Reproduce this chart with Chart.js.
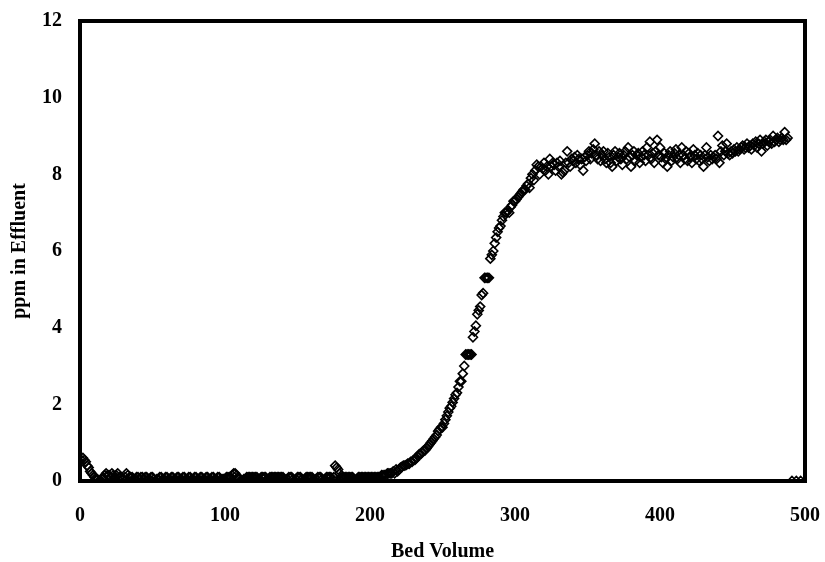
<!DOCTYPE html>
<html>
<head>
<meta charset="utf-8">
<script src="https://cdn.jsdelivr.net/npm/chart.js@4.4.0/dist/chart.umd.min.js"></script>
<style>
    body { margin: 0; background: #fff; }
</style>
</head>
<body>
<canvas id="js--chart--1" width="825" height="562"></canvas>
<script>
// bed volumes, one reading per bed volume
const bedVolume = [
    0, 1, 2, 3, 4, 5, 6, 7, 8, 9,
    10, 11, 12, 13, 14, 15, 16, 17, 18, 19,
    20, 21, 22, 23, 24, 25, 26, 27, 28, 29,
    30, 31, 32, 33, 34, 35, 36, 37, 38, 39,
    40, 41, 42, 43, 44, 45, 46, 47, 48, 49,
    50, 51, 52, 53, 54, 55, 56, 57, 58, 59,
    60, 61, 62, 63, 64, 65, 66, 67, 68, 69,
    70, 71, 72, 73, 74, 75, 76, 77, 78, 79,
    80, 81, 82, 83, 84, 85, 86, 87, 88, 89,
    90, 91, 92, 93, 94, 95, 96, 97, 98, 99,
    100, 101, 102, 103, 104, 105, 106, 107, 108, 109,
    110, 111, 112, 113, 114, 115, 116, 117, 118, 119,
    120, 121, 122, 123, 124, 125, 126, 127, 128, 129,
    130, 131, 132, 133, 134, 135, 136, 137, 138, 139,
    140, 141, 142, 143, 144, 145, 146, 147, 148, 149,
    150, 151, 152, 153, 154, 155, 156, 157, 158, 159,
    160, 161, 162, 163, 164, 165, 166, 167, 168, 169,
    170, 171, 172, 173, 174, 175, 176, 177, 178, 179,
    180, 181, 182, 183, 184, 185, 186, 187, 188, 189,
    190, 191, 192, 193, 194, 195, 196, 197, 198, 199,
    200, 201, 202, 203, 204, 205, 206, 207, 208, 209,
    210, 211, 212, 213, 214,
    215, 216, 217, 218, 219, 220, 221, 222, 223, 224,
    225, 226, 227, 228, 229, 230, 231, 232, 233, 234,
    235, 236, 237, 238, 239, 240, 241, 242, 243, 244,
    245, 246, 247, 248, 249, 250, 251, 252, 253, 254,
    255, 256, 257, 258, 259, 260, 261, 262, 263, 264,
    265, 266, 267, 268, 269, 270, 271, 272, 273, 274,
    275, 276, 277, 278, 279, 280, 281, 282, 283, 284,
    285, 286, 287, 288, 289, 290, 291, 292, 293, 294,
    295, 296, 297, 298, 299, 300, 301, 302, 303, 304,
    305, 306, 307, 308, 309, 310, 311, 312, 313, 314,
    315, 316, 317, 318, 319, 320, 321, 322, 323, 324,
    325, 326, 327, 328, 329, 330, 331, 332, 333, 334,
    335, 336, 337, 338, 339, 340, 341, 342, 343, 344,
    345, 346, 347, 348, 349, 350, 351, 352, 353, 354,
    355, 356, 357, 358, 359, 360, 361, 362, 363, 364,
    365, 366, 367, 368, 369, 370, 371, 372, 373, 374,
    375, 376, 377, 378, 379, 380, 381, 382, 383, 384,
    385, 386, 387, 388, 389, 390, 391, 392, 393, 394,
    395, 396, 397, 398, 399, 400, 401, 402, 403, 404,
    405, 406, 407, 408, 409, 410, 411, 412, 413, 414,
    415, 416, 417, 418, 419, 420, 421, 422, 423, 424,
    425, 426, 427, 428, 429, 430, 431, 432, 433, 434,
    435, 436, 437, 438, 439, 440, 441, 442, 443, 444,
    445, 446, 447, 448, 449, 450, 451, 452, 453, 454,
    455, 456, 457, 458, 459, 460, 461, 462, 463, 464,
    465, 466, 467, 468, 469, 470, 471, 472, 473, 474,
    475, 476, 477, 478, 479, 480, 481, 482, 483, 484,
    485, 486, 487, 488,
    491, 494, 497
];

const ppm = [
    0.5, 0.55, 0.6, 0.55, 0.5, 0.4, 0.35, 0.25, 0.2, 0.15,
    0.1, 0.05, 0.05, 0, 0, 0.05, 0.1, 0.15, 0.2, 0.15,
    0.15, 0.1, 0.2, 0.15, 0.1, 0.15, 0.2, 0.1, 0.1, 0.05,
    0.05, 0.1, 0.2, 0.15, 0.1, 0.1, 0.1, 0.05, 0.05, 0.1,
    0.1, 0.05, 0.1, 0.1, 0.05, 0.1, 0.1, 0.05, 0.05, 0.1,
    0.1, 0.05, 0, 0.05, 0.05, 0.1, 0.1, 0.05, 0.05, 0.1,
    0.1, 0.05, 0.05, 0.1, 0.1, 0.05, 0.05, 0.1, 0.1, 0.05,
    0.05, 0.1, 0.1, 0.05, 0.05, 0.1, 0.1, 0.05, 0.05, 0.1,
    0.1, 0.05, 0.05, 0.1, 0.1, 0.05, 0.05, 0.1, 0.1, 0.05,
    0.05, 0.1, 0.1, 0.05, 0.05, 0.1, 0.1, 0.05, 0.05, 0.05,
    0.05, 0.1, 0.1, 0.1, 0.1, 0.15, 0.2, 0.2, 0.15, 0.1,
    0.05, 0, 0, 0.05, 0.05, 0.1, 0.1, 0.1, 0.1, 0.1,
    0.1, 0.1, 0.1, 0.05, 0.05, 0.1, 0.1, 0.1, 0.1, 0.05,
    0.05, 0.1, 0.1, 0.1, 0.1, 0.1, 0.1, 0.1, 0.1, 0.1,
    0.1, 0.05, 0, 0.05, 0.1, 0.1, 0.1, 0.05, 0, 0.05,
    0.1, 0.1, 0.1, 0.05, 0, 0.05, 0.1, 0.1, 0.1, 0.1,
    0.1, 0.05, 0, 0.05, 0.1, 0.1, 0.1, 0.05, 0, 0.05,
    0.1, 0.1, 0.1, 0.1, 0.05, 0.1, 0.4, 0.35, 0.3, 0.2,
    0.1, 0.1, 0.1, 0.1, 0.1, 0.1, 0.1, 0.1, 0.1, 0.05,
    0, 0.05, 0.1, 0.1, 0.1, 0.1, 0.1, 0.1, 0.1, 0.1,
    0.1, 0.1, 0.1, 0.1, 0.1, 0.1, 0.1, 0.1, 0.15, 0.15,
    0.15, 0.15, 0.2, 0.2, 0.2,
    0.2, 0.25, 0.2, 0.3, 0.25, 0.3, 0.35, 0.37, 0.4, 0.4,
    0.42, 0.45, 0.45, 0.5, 0.5, 0.55, 0.55, 0.6, 0.65, 0.7,
    0.7, 0.75, 0.8, 0.8, 0.85, 0.9, 0.95, 1.0, 1.05, 1.1,
    1.15, 1.2, 1.3, 1.35, 1.4, 1.4, 1.5, 1.6, 1.7, 1.8,
    1.9, 1.95, 2.05, 2.15, 2.25, 2.3, 2.45, 2.6, 2.6, 2.8,
    3.0, 3.3, 3.3, 3.3, 3.3, 3.3, 3.75, 3.9, 4.05, 4.35,
    4.45, 4.55, 4.85, 4.9, 5.3, 5.3, 5.3, 5.3, 5.8, 5.9,
    6.0, 6.2, 6.35, 6.5, 6.6, 6.65, 6.8, 6.9, 7.0, 7.0,
    7.05, 7.0, 7.15, 7.2, 7.3, 7.3, 7.35, 7.4, 7.45, 7.5,
    7.55, 7.6, 7.6, 7.7, 7.75, 7.65, 7.9, 8.0, 7.85, 8.1,
    8.25, 8.2, 8.0, 8.2, 8.15, 8.3, 8.1, 8.2, 8.0, 8.4,
    8.2, 8.3, 8.25, 8.1, 8.3, 8.2, 8.35, 8.0, 8.05, 8.1,
    8.3, 8.6, 8.3, 8.2, 8.4, 8.35, 8.45, 8.3, 8.5, 8.4,
    8.25, 8.4, 8.1, 8.45, 8.35, 8.5, 8.6, 8.4, 8.55, 8.65,
    8.8, 8.5, 8.4, 8.6, 8.35, 8.5, 8.6, 8.4, 8.3, 8.55,
    8.45, 8.3, 8.2, 8.5, 8.6, 8.35, 8.45, 8.55, 8.4, 8.25,
    8.5, 8.6, 8.4, 8.7, 8.45, 8.2, 8.5, 8.6, 8.35, 8.5,
    8.55, 8.3, 8.45, 8.6, 8.5, 8.35, 8.7, 8.5, 8.85, 8.4,
    8.55, 8.3, 8.6, 8.9, 8.5, 8.7, 8.45, 8.3, 8.55, 8.4,
    8.2, 8.5, 8.6, 8.35, 8.45, 8.55, 8.65, 8.4, 8.5, 8.3,
    8.7, 8.5, 8.4, 8.6, 8.35, 8.55, 8.45, 8.3, 8.65, 8.5,
    8.4, 8.55, 8.35, 8.5, 8.4, 8.2, 8.5, 8.7, 8.45, 8.35,
    8.5, 8.4, 8.45, 8.5, 8.4, 9.0, 8.3, 8.6, 8.75, 8.5,
    8.6, 8.8, 8.55, 8.5, 8.6, 8.55, 8.65, 8.6, 8.7, 8.6,
    8.65, 8.7, 8.75, 8.65, 8.7, 8.8, 8.7, 8.75, 8.65, 8.8,
    8.75, 8.85, 8.7, 8.8, 8.9, 8.6, 8.8, 8.85, 8.9, 8.75,
    8.85, 8.9, 8.8, 9.0, 8.85, 8.9, 8.95, 8.85, 8.9, 8.95,
    8.9, 9.1, 8.9, 8.95,
    0, 0, 0
];

const xTicks = [0, 100, 200, 300, 400, 500];
const yTicks = [0, 2, 4, 6, 8, 10, 12];

const points = bedVolume.map(function (bv, i) {
    return { x: bv, y: ppm[i] };
});

const serif = "'Liberation Serif', 'Times New Roman', serif";

// thick box round the plot area
const framePlugin = {
    id: 'frame',
    beforeDatasetsDraw(chart) {
        const { ctx, chartArea } = chart;
        ctx.save();
        ctx.strokeStyle = '#000';
        ctx.lineWidth = 4;
        ctx.strokeRect(chartArea.left, chartArea.top, chartArea.right - chartArea.left, chartArea.bottom - chartArea.top);
        ctx.restore();
    }
};

const config = {
    type: 'scatter',
    data: {
        datasets: [{
            label: 'ppm in Effluent',
            data: points,
            pointStyle: 'rectRot',
            pointRadius: 4.5,
            pointBorderWidth: 1.6,
            borderColor: '#000',
            backgroundColor: 'rgba(0,0,0,0)',
            pointHoverRadius: 4.5
        }]
    },
    options: {
        responsive: false,
        animation: false,
        events: [],
        layout: {
            padding: { left: 0, right: 20, top: 21, bottom: 0 }
        },
        plugins: {
            legend: { display: false },
            tooltip: { enabled: false }
        },
        scales: {
            x: {
                type: 'linear',
                min: 0,
                max: 500,
                afterFit: function (scale) {
                    scale.height = 81;
                    scale.paddingLeft = 0;
                    scale.paddingRight = 0;
                },
                afterBuildTicks: function (scale) {
                    scale.ticks = xTicks.map(function (v) { return { value: v }; });
                },
                grid: { display: false, drawTicks: false },
                border: { display: false },
                ticks: {
                    padding: 23,
                    color: '#000',
                    font: { family: serif, size: 20, weight: 'bold' }
                },
                title: {
                    display: true,
                    text: 'Bed Volume',
                    color: '#000',
                    padding: 0,
                    font: { family: serif, size: 20, weight: 'bold', lineHeight: 1 }
                }
            },
            y: {
                type: 'linear',
                min: 0,
                max: 12,
                afterFit: function (scale) {
                    scale.width = 80;
                    scale.paddingTop = 0;
                    scale.paddingBottom = 0;
                },
                afterBuildTicks: function (scale) {
                    scale.ticks = yTicks.map(function (v) { return { value: v }; });
                },
                grid: { display: false, drawTicks: false },
                border: { display: false },
                ticks: {
                    padding: 18,
                    color: '#000',
                    font: { family: serif, size: 20, weight: 'bold' }
                },
                title: {
                    display: true,
                    text: 'ppm in Effluent',
                    color: '#000',
                    padding: 10,
                    font: { family: serif, size: 20, weight: 'bold', lineHeight: 1 }
                }
            }
        }
    },
    plugins: [framePlugin]
};

new Chart(document.getElementById("js--chart--1"), config);
</script>
</body>
</html>
